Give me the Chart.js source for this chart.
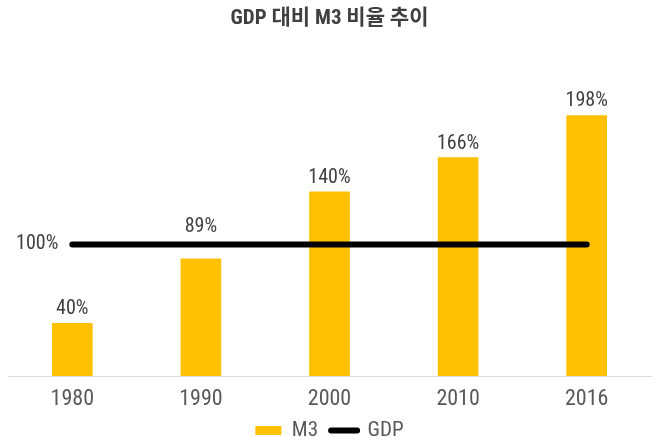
<!DOCTYPE html>
<html>
<head>
<meta charset="utf-8">
<script src="https://cdn.jsdelivr.net/npm/chart.js@4"></script>
<style>
  html, body { margin: 0; padding: 0; background: #fff; }
  #wrap { width: 659px; height: 437px; }
</style>
</head>
<body>
<div id="wrap"><canvas id="chart"></canvas></div>
<script>
const years = ["1980", "1990", "2000", "2010", "2016"];
const m3Ratio = [40, 89, 140, 166, 198];
const gdpLine = [100, 100, 100, 100, 100];
const titleText = "GDP 대비 M3 비율 추이";

const FONT = '"Roboto Condensed", "Noto Sans CJK KR", sans-serif';
const YELLOW = "#FFC000";
const TEXT = "#404040";

// value labels above bars, and the "100%" tag left of the GDP line
const labelPlugin = {
  id: "labels",
  afterLayout(chart) {
    // pull the legend a little closer to the axis labels
    chart.legend.top -= 15;
    chart.legend.bottom -= 15;
  },
  afterDatasetsDraw(chart) {
    const ctx = chart.ctx;
    const bars = chart.getDatasetMeta(0).data;
    const line = chart.getDatasetMeta(1).data;
    const lineY = line[0].y;
    ctx.save();
    ctx.fillStyle = TEXT;
    ctx.font = "20px " + FONT;
    ctx.textAlign = "center";
    ctx.textBaseline = "alphabetic";
    bars.forEach((b, i) => {
      let y = b.y - 9;
      // keep label clear of the GDP line
      if (y - 15 < lineY + 4 && b.y > lineY) y = lineY - 12;
      ctx.fillText(m3Ratio[i] + "%", b.x, y);
    });
    ctx.textAlign = "right";
    ctx.textBaseline = "middle";
    ctx.fillText(gdpLine[0] + "%", line[0].x - 14, lineY);
    ctx.restore();
  }
};

new Chart(document.getElementById("chart"), {
  data: {
    labels: years,
    datasets: [
      {
        type: "bar",
        label: "M3",
        data: m3Ratio,
        backgroundColor: YELLOW,
        barThickness: 40,
        order: 1
      },
      {
        type: "line",
        label: "GDP",
        data: gdpLine,
        borderColor: "#000",
        backgroundColor: "#000",
        borderWidth: 6,
        borderCapStyle: "round",
        pointRadius: 0,
        order: 0
      }
    ]
  },
  options: {
    responsive: true,
    maintainAspectRatio: false,
    animation: false,
    layout: { padding: { left: 8, right: 8, top: 0, bottom: -29 } },
    scales: {
      x: {
        grid: { display: false, drawTicks: false },
        border: { display: true, color: "#d9d9d9", width: 1 },
        ticks: { color: "#595959", font: { family: FONT, size: 22, lineHeight: 1 }, padding: 12 }
      },
      y: { display: false, min: 0, max: 240 }
    },
    plugins: {
      title: {
        display: true,
        text: titleText,
        color: TEXT,
        font: { family: FONT, size: 21, weight: "bold", lineHeight: 1.2 },
        padding: { top: 6, bottom: 29 }
      },
      legend: {
        position: "bottom",
        labels: {
          color: "#595959",
          font: { family: FONT, size: 21, lineHeight: 1 },
          usePointStyle: true,
          pointStyleWidth: 26,
          boxWidth: 26,
          boxHeight: 9,
          padding: 13,
          sort: (a, b) => a.datasetIndex - b.datasetIndex,
          generateLabels(chart) {
            const items = Chart.defaults.plugins.legend.labels.generateLabels(chart);
            items.forEach(it => {
              if (it.text === "M3") {
                it.pointStyle = "rect";
                it.lineWidth = 0;
                it.strokeStyle = YELLOW;
              } else {
                it.pointStyle = "line";
                it.lineWidth = 6;
                it.lineCap = "round";
                it.strokeStyle = "#000";
              }
            });
            return items;
          }
        }
      },
      tooltip: { enabled: false }
    }
  },
  plugins: [labelPlugin]
});
</script>
</body>
</html>
